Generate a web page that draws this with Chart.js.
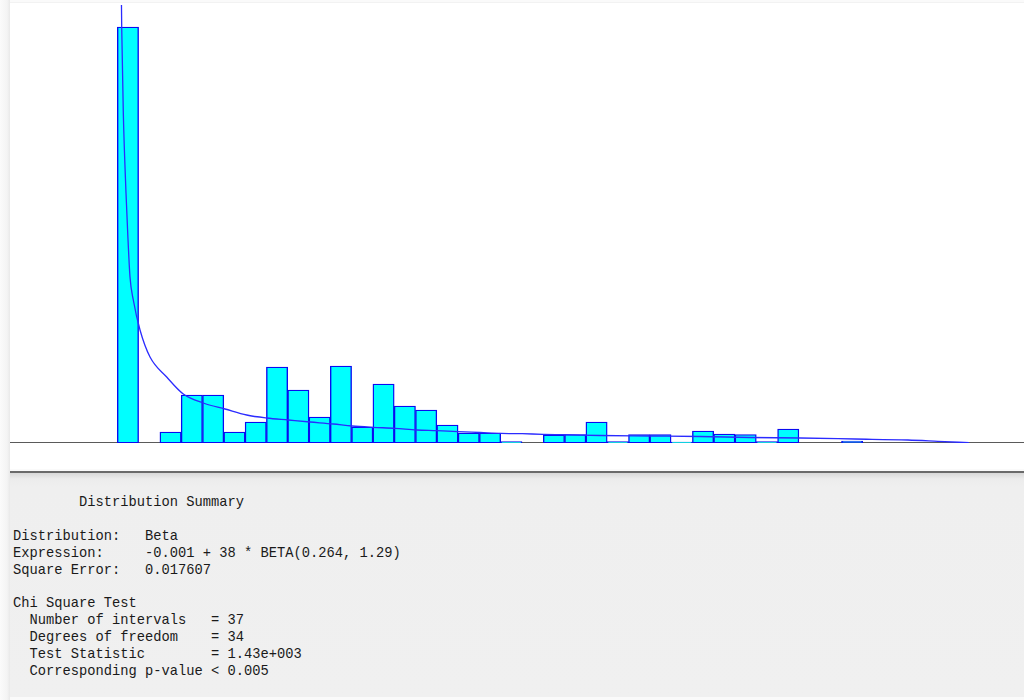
<!DOCTYPE html>
<html>
<head>
<meta charset="utf-8">
<script src="https://cdn.jsdelivr.net/npm/chart.js@4/dist/chart.umd.min.js"></script>
<style>
  html, body { margin: 0; padding: 0; }
  body { width: 1024px; height: 700px; position: relative; overflow: hidden;
         background: #fafafa; font-family: "Liberation Mono", "DejaVu Sans Mono", monospace; }
  #edge { position: absolute; left: 0; top: 0; width: 10px; height: 700px;
          background: linear-gradient(to right, #fbfbfb, #f4f4f4 70%, #e9e9e9); }
  #plotPanel { position: absolute; left: 10px; top: 2px; width: 1014px; height: 466px;
               background: #ffffff; border-top: 1px solid #f2f2f2; }
  #chartBox { position: absolute; left: 10px; top: 5px; width: 1014px; height: 438px; }
  #summary { position: absolute; left: 10px; top: 471px; width: 1014px; height: 224px;
             background: linear-gradient(to bottom, #d8d8d8 0px, #ececec 6px, #efefef 14px, #f0f0f0 100%);
             border-top: 2px solid #6a6a6a; }
  #summary pre { position: absolute; left: 3px; top: 22px; margin: 0;
                 font-family: "Liberation Mono", "DejaVu Sans Mono", monospace;
                 font-size: 13.75px; line-height: 16.9px; color: #1a1a1a; }
</style>
</head>
<body>
<div id="edge"></div>
<div id="plotPanel"></div>
<div id="chartBox"><canvas id="hist"></canvas></div>
<div id="summary"><pre id="summaryText"></pre></div>
<script>
// Histogram: 40 equal bins over the fitted range, relative frequency per bin
const binStart = -0.001;
const binWidth = 0.95;
const binFreq = [
  0.416, 0,     0.011, 0.048, 0.048, 0.011, 0.021, 0.076, 0.053, 0.026,
  0.077, 0.016, 0.059, 0.037, 0.033, 0.018, 0.010, 0.010, 0.0013, 0,
  0.008, 0.0085, 0.021, 0.0013, 0.0085, 0.0085, 0.0008, 0.012, 0.009, 0.0085,
  0.0013, 0.014, 0,    0,     0.002, 0,     0,     0,     0,     0
];

// Fitted Beta density curve, sampled along the x range
const curveX = [0.17, 0.195, 0.267, 0.387, 0.463, 0.565, 0.713, 1.012, 1.458, 2.202,
  2.943, 3.835, 4.803, 5.771, 6.663, 7.626, 8.594, 9.633, 10.467, 11.404,
  12.385, 13.353, 14.258, 15.195, 16.176, 17.113, 18.05, 18.986, 19.968, 21.529,
  23.759, 25.989, 28.22, 30.45, 32.9, 35.26, 36.6, 37.98];
const curveY = [0.47, 0.416, 0.330, 0.250, 0.210, 0.166, 0.143, 0.113, 0.086, 0.066,
  0.049, 0.040, 0.034, 0.028, 0.025, 0.023, 0.021, 0.019, 0.017, 0.0157,
  0.0147, 0.013, 0.0123, 0.0113, 0.0105, 0.0097, 0.0093, 0.0087, 0.0083, 0.0075,
  0.007, 0.0065, 0.0055, 0.005, 0.004, 0.003, 0.0017, 0.0003];

// Visible x window and frequency ceiling of the plot
const xWindow = [-4.787, 40.439];
const yCeiling = 0.438;

const summaryLines = [
  "        Distribution Summary",
  "",
  "Distribution:   Beta",
  "Expression:     -0.001 + 38 * BETA(0.264, 1.29)",
  "Square Error:   0.017607",
  "",
  "Chi Square Test",
  "  Number of intervals   = 37",
  "  Degrees of freedom    = 34",
  "  Test Statistic        = 1.43e+003",
  "  Corresponding p-value < 0.005"
];
document.getElementById('summaryText').textContent = summaryLines.join('\n');

const barPoints = binFreq.map((v, i) => ({ x: binStart + binWidth * (i + 0.5), y: v }));
const curvePoints = curveX.map((x, i) => ({ x: x, y: curveY[i] }));

new Chart(document.getElementById('hist'), {
  type: 'bar',
  data: {
    datasets: [
      {
        type: 'line',
        data: curvePoints,
        borderColor: '#2b2bff',
        borderWidth: 1.3,
        pointRadius: 0,
        cubicInterpolationMode: 'monotone',
        fill: false,
        order: 1
      },
      {
        type: 'bar',
        data: barPoints,
        backgroundColor: '#00ffff',
        borderColor: '#0a0af0',
        borderWidth: 1.4,
        borderSkipped: false,
        barPercentage: 1,
        categoryPercentage: 1,
        order: 2
      }
    ]
  },
  options: {
    responsive: true,
    maintainAspectRatio: false,
    animation: false,
    layout: { padding: 0 },
    plugins: { legend: { display: false }, tooltip: { enabled: false } },
    scales: {
      x: {
        type: 'linear',
        offset: false,
        min: xWindow[0],
        max: xWindow[1],
        display: true,
        ticks: { display: false },
        grid: { display: false, drawTicks: false, offset: false },
        border: { display: true, color: '#5a5a5a', width: 2 }
      },
      y: {
        min: 0,
        max: yCeiling,
        display: false
      }
    }
  }
});
</script>
</body>
</html>
